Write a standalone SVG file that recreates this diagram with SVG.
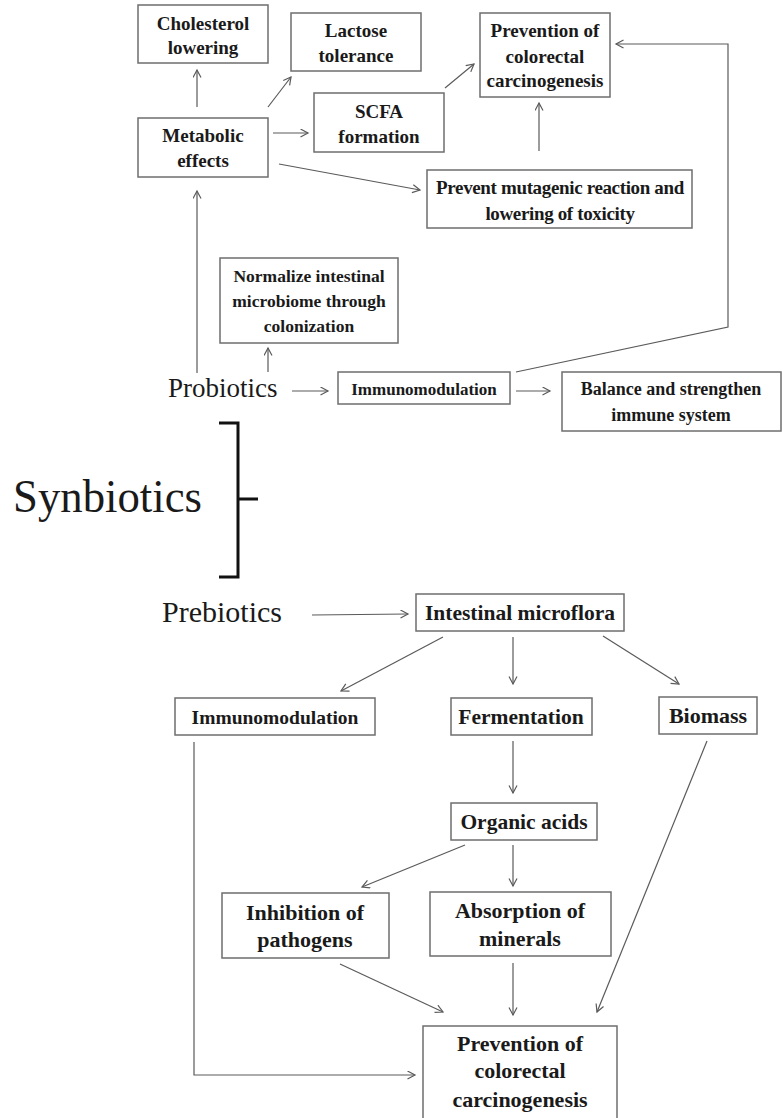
<svg xmlns="http://www.w3.org/2000/svg" width="783" height="1118" viewBox="0 0 783 1118">
  <defs>
    <marker id="arrow" markerUnits="userSpaceOnUse" markerWidth="12" markerHeight="12" refX="8" refY="4.5" orient="auto">
      <path d="M0.5,0.5 L8,4.5 L0.5,8.5" fill="none" stroke="#5a5a5a" stroke-width="1.2"/>
    </marker>
    <style>
      .box { fill: #ffffff; stroke: #6e6e6e; stroke-width: 1.5; }
      .lbl { font-family: "Liberation Serif", "Times New Roman", serif; font-weight: bold; fill: #1a1a1a; text-anchor: middle; }
      .big { font-family: "Liberation Serif", "Times New Roman", serif; fill: #1a1a1a; }
      .edge { fill: none; stroke: #5a5a5a; stroke-width: 1.2; }
      .arr { marker-end: url(#arrow); }
    </style>
  </defs>
  <rect width="783" height="1118" fill="#ffffff"/>

  <!-- connectors -->
  <g id="connectors">
    <!-- upper cluster -->
    <line class="edge arr" x1="197" y1="107" x2="197" y2="70"/>
    <line class="edge arr" x1="268" y1="107" x2="291" y2="77"/>
    <line class="edge arr" x1="273" y1="133" x2="308" y2="133"/>
    <line class="edge arr" x1="279" y1="164" x2="420" y2="190"/>
    <line class="edge arr" x1="445" y1="88" x2="474" y2="64"/>
    <line class="edge arr" x1="539" y1="151" x2="539" y2="103"/>
    <line class="edge arr" x1="197" y1="373" x2="197" y2="191"/>
    <line class="edge arr" x1="268" y1="372" x2="268" y2="348"/>
    <line class="edge arr" x1="292" y1="391" x2="328" y2="391"/>
    <line class="edge arr" x1="516" y1="391" x2="550" y2="391"/>
    <polyline class="edge arr" points="516,372 728,327 728,44 616,44"/>
    <!-- lower cluster -->
    <line class="edge arr" x1="312" y1="615" x2="408" y2="614"/>
    <line class="edge arr" x1="443" y1="637" x2="341" y2="691"/>
    <line class="edge arr" x1="513" y1="637" x2="513" y2="684"/>
    <line class="edge arr" x1="603" y1="636" x2="679" y2="684"/>
    <line class="edge arr" x1="513" y1="741" x2="513" y2="793"/>
    <line class="edge arr" x1="465" y1="845" x2="362" y2="887"/>
    <line class="edge arr" x1="513" y1="845" x2="513" y2="886"/>
    <polyline class="edge arr" points="194,742 194,1075 415,1075"/>
    <line class="edge arr" x1="340" y1="964" x2="443" y2="1012"/>
    <line class="edge arr" x1="513" y1="963" x2="513" y2="1015"/>
    <line class="edge arr" x1="707" y1="741" x2="597" y2="1012"/>
  </g>

  <!-- upper cluster nodes -->
  <g id="cholesterol">
    <rect class="box" x="138" y="5" width="130" height="58"/>
    <text class="lbl" font-size="19" x="203" y="30">Cholesterol</text>
    <text class="lbl" font-size="19" x="203" y="54">lowering</text>
  </g>
  <g id="lactose">
    <rect class="box" x="291" y="13" width="130" height="58"/>
    <text class="lbl" font-size="19" x="356" y="37">Lactose</text>
    <text class="lbl" font-size="19" x="356" y="62">tolerance</text>
  </g>
  <g id="prevention-top">
    <rect class="box" x="480" y="13" width="130" height="84"/>
    <text class="lbl" font-size="19" x="545" y="37">Prevention of</text>
    <text class="lbl" font-size="19" x="545" y="63">colorectal</text>
    <text class="lbl" font-size="19" x="545" y="87">carcinogenesis</text>
  </g>
  <g id="scfa">
    <rect class="box" x="314" y="93" width="130" height="59"/>
    <text class="lbl" font-size="19" x="379" y="118">SCFA</text>
    <text class="lbl" font-size="19" x="379" y="143">formation</text>
  </g>
  <g id="metabolic">
    <rect class="box" x="138" y="118" width="130" height="59"/>
    <text class="lbl" font-size="19" x="203" y="142">Metabolic</text>
    <text class="lbl" font-size="19" x="203" y="167">effects</text>
  </g>
  <g id="mutagenic">
    <rect class="box" x="427" y="170" width="265" height="58"/>
    <text class="lbl" font-size="19" x="560" y="194" letter-spacing="-0.35">Prevent mutagenic reaction and</text>
    <text class="lbl" font-size="19" x="560" y="220" letter-spacing="-0.35">lowering of toxicity</text>
  </g>
  <g id="normalize">
    <rect class="box" x="220" y="258" width="178" height="85"/>
    <text class="lbl" font-size="17.5" x="309" y="282">Normalize intestinal</text>
    <text class="lbl" font-size="17.5" x="309" y="307">microbiome through</text>
    <text class="lbl" font-size="17.5" x="309" y="332">colonization</text>
  </g>
  <g id="probiotics">
    <text class="big" font-size="27" x="168" y="397">Probiotics</text>
  </g>
  <g id="immuno-top">
    <rect class="box" x="338" y="372" width="172" height="32"/>
    <text class="lbl" font-size="17" x="424" y="395">Immunomodulation</text>
  </g>
  <g id="balance">
    <rect class="box" x="562" y="372" width="219" height="59"/>
    <text class="lbl" font-size="18" x="671" y="395">Balance and strengthen</text>
    <text class="lbl" font-size="18" x="671" y="421">immune system</text>
  </g>

  <!-- synbiotics bracket -->
  <g id="synbiotics">
    <text class="big" font-size="47" x="13" y="512" textLength="189" lengthAdjust="spacingAndGlyphs">Synbiotics</text>
    <path d="M219,423 H238 V577 H219 M238,499 H258" fill="none" stroke="#111111" stroke-width="3"/>
  </g>

  <!-- lower cluster nodes -->
  <g id="prebiotics">
    <text class="big" font-size="30" x="162" y="622">Prebiotics</text>
  </g>
  <g id="microflora">
    <rect class="box" x="416" y="594" width="208" height="37"/>
    <text class="lbl" font-size="21.5" x="520" y="620">Intestinal microflora</text>
  </g>
  <g id="immuno-bottom">
    <rect class="box" x="175" y="698" width="200" height="37"/>
    <text class="lbl" font-size="19.5" x="275" y="724">Immunomodulation</text>
  </g>
  <g id="fermentation">
    <rect class="box" x="451" y="698" width="141" height="37"/>
    <text class="lbl" font-size="21.5" x="521" y="724">Fermentation</text>
  </g>
  <g id="biomass">
    <rect class="box" x="659" y="697" width="98" height="37"/>
    <text class="lbl" font-size="22" x="708" y="723">Biomass</text>
  </g>
  <g id="organic">
    <rect class="box" x="451" y="803" width="146" height="37"/>
    <text class="lbl" font-size="21.5" x="524" y="829">Organic acids</text>
  </g>
  <g id="inhibition">
    <rect class="box" x="222" y="893" width="167" height="65"/>
    <text class="lbl" font-size="22" x="305" y="920">Inhibition of</text>
    <text class="lbl" font-size="22" x="305" y="947">pathogens</text>
  </g>
  <g id="absorption">
    <rect class="box" x="430" y="892" width="181" height="64"/>
    <text class="lbl" font-size="22" x="520" y="918">Absorption of</text>
    <text class="lbl" font-size="22" x="520" y="946">minerals</text>
  </g>
  <g id="prevention-bottom">
    <rect class="box" x="423" y="1026" width="194" height="100"/>
    <text class="lbl" font-size="22" x="520" y="1051">Prevention of</text>
    <text class="lbl" font-size="22" x="520" y="1078">colorectal</text>
    <text class="lbl" font-size="22" x="520" y="1107">carcinogenesis</text>
  </g>
</svg>
